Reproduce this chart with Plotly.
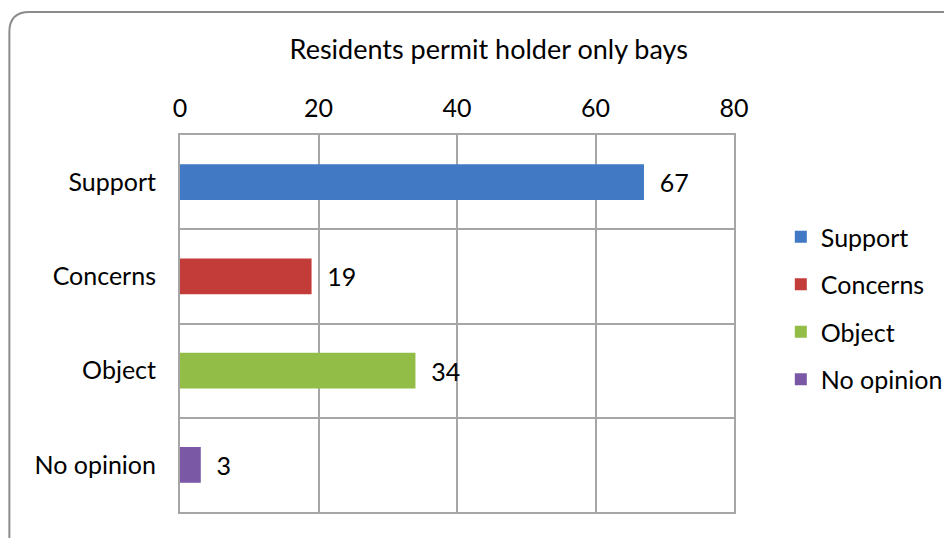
import plotly.graph_objects as go

categories = ["Support", "Concerns", "Object", "No opinion"]
values = [67, 19, 34, 3]
colors = ["#4279C4", "#C43C3A", "#92BE48", "#7A58A6"]
x_ticks = [0, 20, 40, 60, 80]

font = "Lato, Calibri, sans-serif"

fig = go.Figure()
for cat, val, col in zip(categories, values, colors):
    fig.add_trace(go.Bar(
        x=[val], y=[cat], orientation="h", name=cat, legendgroup=cat,
        marker=dict(color=col, line=dict(width=0)),
        width=0.38, text=[val], textposition="outside",
        texttemplate="  %{x}", cliponaxis=False,
        textfont=dict(size=25, color="black"),
    ))

# the page body adds an 8px offset, margins are shifted to compensate
fig.update_layout(
    width=952, height=538,
    margin=dict(l=172, r=224, t=127, b=34),
    paper_bgcolor="white", plot_bgcolor="white",
    font=dict(family=font, size=25, color="black"),
    barmode="overlay",
    title=dict(text="Residents permit holder only bays", x=0.505, xanchor="center",
               y=0.922, yanchor="middle", font=dict(size=27)),
    xaxis=dict(side="top", range=[0, 80], tickvals=x_ticks, showgrid=True,
               gridcolor="#A6A6A6", gridwidth=2, zeroline=False,
               showline=True, linecolor="#A6A6A6", linewidth=2, mirror=True,
               ticks="", ticklabelstandoff=6),
    yaxis=dict(categoryorder="array", categoryarray=categories, autorange="reversed",
               tickson="boundaries", showgrid=True, gridcolor="#A6A6A6", gridwidth=2,
               showline=True, linecolor="#A6A6A6", linewidth=2, mirror=True,
               ticks="", ticklabelstandoff=17),
    legend=dict(x=1.0845, xanchor="left", y=0.541, yanchor="middle",
                tracegroupgap=12, font=dict(size=25), itemwidth=30),
    showlegend=True,
)

# rounded chart frame
rx, ry = 0.036, 0.053
x0, y0 = -0.308, 1.326
fig.add_shape(type="path", xref="paper", yref="paper",
              path=f"M {x0},-0.3 L {x0},{y0 - ry} Q {x0},{y0} {x0 + rx},{y0} L 1.5,{y0}",
              line=dict(color="#8C8C8C", width=2))

fig.write_html("out.html")
